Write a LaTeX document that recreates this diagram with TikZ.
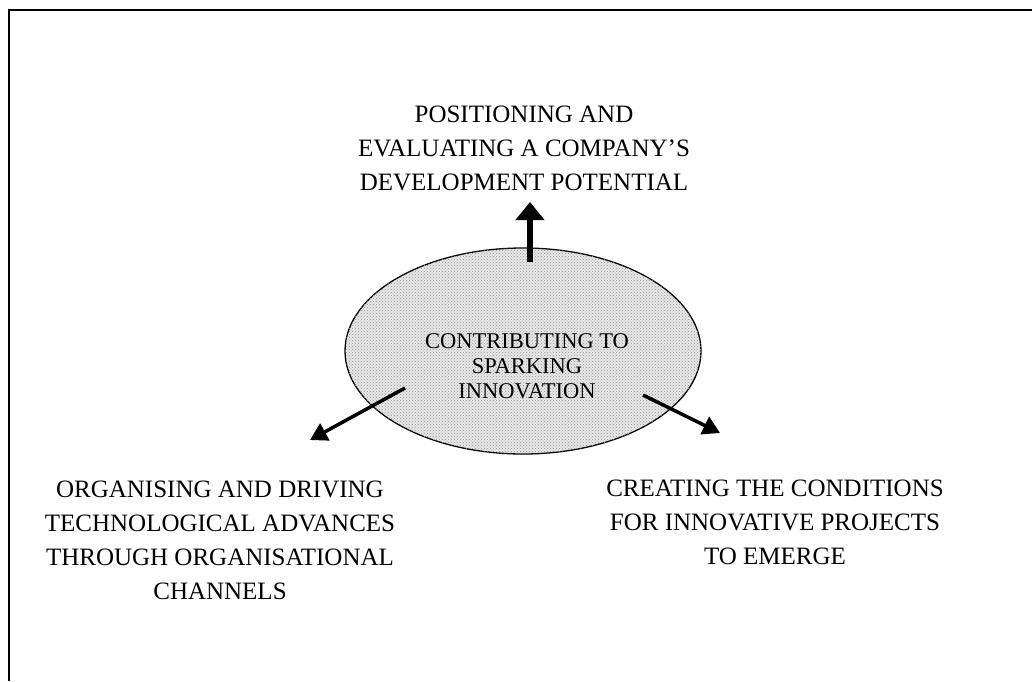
\documentclass[tikz,border=0pt]{standalone}
\usepackage{fontspec}
\setmainfont{Liberation Serif}
\usetikzlibrary{shapes.geometric,arrows.meta,patterns}
\begin{document}
\begin{tikzpicture}[x=1pt,y=-1pt,
  outer/.style={align=center,inner sep=0pt,font=\fontsize{25}{34}\selectfont},
  inner/.style={align=center,inner sep=0pt,font=\fontsize{22.5}{25}\selectfont},
  bigarrow/.style={line width=5.5pt,-{Triangle[length=18pt,width=28pt]}},
  diagarrow/.style={line width=3.5pt,-{Triangle[length=17pt,width=19pt]}},
  blob/.style={ellipse,draw,line width=1.3pt,fill=gray!18,
    postaction={pattern=crosshatch dots,pattern color=gray!85},
    minimum width=356pt,minimum height=206pt,inner sep=0pt}]
\useasboundingbox (0,0) rectangle (1034,681);
\draw[line width=2pt] (9,681) -- (9,10) -- (1032,10);
\node[blob] (ell) at (523,351) {};
\node[inner] (ctr) at (527,366) {CONTRIBUTING TO\\SPARKING\\INNOVATION};
\node[outer] (tp) at (524,148) {POSITIONING AND\\EVALUATING A COMPANY'S\\DEVELOPMENT POTENTIAL};
\node[outer] (lt) at (220,540) {ORGANISING AND DRIVING\\TECHNOLOGICAL ADVANCES\\THROUGH ORGANISATIONAL\\CHANNELS};
\node[outer] (rt) at (775,522) {CREATING THE CONDITIONS\\FOR INNOVATIVE PROJECTS\\TO EMERGE};
\coordinate (us) at (530,262);
\coordinate (ue) at (530,202);
\coordinate (ls) at (405,388);
\coordinate (le) at (310,440);
\coordinate (rs) at (643,395);
\coordinate (re) at (720,433);
\draw[bigarrow] (us) -- (ue);
\draw[diagarrow] (ls) -- (le);
\draw[diagarrow] (rs) -- (re);
\end{tikzpicture}
\end{document}
